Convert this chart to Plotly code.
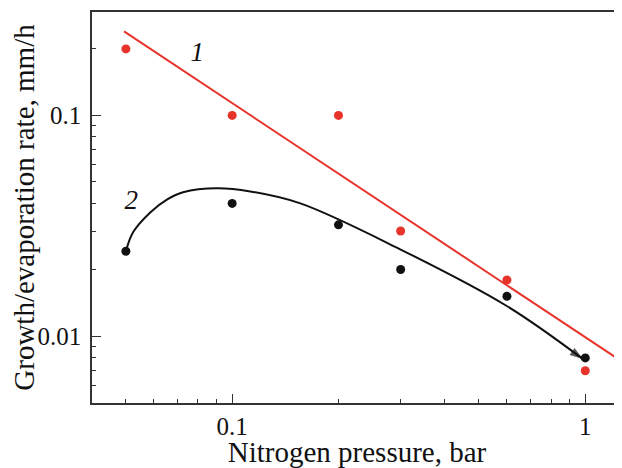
import plotly.graph_objects as go

# Series 1 (red): measured points
p1_x = [0.05, 0.1, 0.2, 0.3, 0.6, 1.0]
p1_y = [0.2, 0.1, 0.1, 0.03, 0.018, 0.007]
# Series 2 (black): measured points
p2_x = [0.05, 0.1, 0.2, 0.3, 0.6, 1.0]
p2_y = [0.0243, 0.04, 0.032, 0.0201, 0.0152, 0.008]

# Fit line for series 1 (endpoints)
fit1_x = [0.0494, 1.27]
fit1_y = [0.24, 0.0077]

# Guide curve for series 2
curve2_x = [0.05, 0.0524, 0.0586, 0.0655, 0.0726, 0.0907, 0.1125, 0.156, 0.299, 0.601, 0.985]
curve2_y = [0.0243, 0.0296, 0.0364, 0.0417, 0.0449, 0.0468, 0.0453, 0.0400, 0.0248, 0.0137, 0.0079]

# Curve labels
label_text = ["1", "2"]
label_x = [0.0796, 0.0518]
label_y = [0.189, 0.0404]

# Tick labels
x_ticks = [0.1, 1]
x_ticktext = ["0.1", "1"]
y_ticks = [0.01, 0.1]
y_ticktext = ["0.01", "0.1"]
x_minor = [0.05, 0.06, 0.07, 0.08, 0.09, 0.2, 0.3, 0.4, 0.5, 0.6, 0.7, 0.8, 0.9]
y_minor = [0.006, 0.007, 0.008, 0.009, 0.02, 0.03, 0.04, 0.05, 0.06, 0.07, 0.08, 0.09, 0.2]

RED = "#e8332a"
BLACK = "#111111"
AXC = "#333333"
FONT = "Liberation Serif"

fig = go.Figure()

fig.add_trace(go.Scatter(x=fit1_x, y=fit1_y, mode="lines",
                         line=dict(color=RED, width=2), showlegend=False))
n = len(curve2_x)
fig.add_trace(go.Scatter(x=curve2_x, y=curve2_y, mode="lines+markers",
                         line=dict(color=BLACK, width=2, shape="spline", smoothing=1.0),
                         marker=dict(symbol="arrow", angleref="previous",
                                     size=[0] * (n - 1) + [14], color=BLACK,
                                     line=dict(width=0)),
                         showlegend=False))
fig.add_trace(go.Scatter(x=p1_x, y=p1_y, mode="markers",
                         marker=dict(color=RED, size=9), showlegend=False))
fig.add_trace(go.Scatter(x=p2_x, y=p2_y, mode="markers",
                         marker=dict(color=BLACK, size=9), showlegend=False))
fig.add_trace(go.Scatter(x=label_x, y=label_y, mode="text", text=label_text,
                         textfont=dict(family=FONT, size=27, color=BLACK,
                                       style="italic"),
                         showlegend=False))

axis_common = dict(
    showgrid=False, zeroline=False, showline=True, linecolor=AXC, linewidth=1.5,
    ticks="inside", ticklen=9, tickwidth=1.3, tickcolor=AXC,
    tickfont=dict(family=FONT, size=25, color="#111111"),
    automargin=False,
)

fig.update_xaxes(type="log", range=[-1.397, 0.104], tickvals=x_ticks, ticktext=x_ticktext,
                 mirror=True,
                 minor=dict(tickvals=x_minor, ticks="inside", ticklen=4.5,
                            tickwidth=1.3, tickcolor=AXC, showgrid=False),
                 title=dict(text="Nitrogen pressure, bar",
                            font=dict(family=FONT, size=29, color="#111111"), standoff=8),
                 **axis_common)
fig.update_yaxes(type="log", range=[-2.301, -0.532], tickvals=y_ticks, ticktext=y_ticktext,
                 ticklabelstandoff=4,
                 minor=dict(tickvals=y_minor, ticks="inside", ticklen=4.5,
                            tickwidth=1.3, tickcolor=AXC, showgrid=False),
                 title=dict(text="Growth/evaporation rate, mm/h",
                            font=dict(family=FONT, size=29, color="#111111"), standoff=0),
                 **axis_common)

# The page body has an 8px default margin, so the figure is sized to the visible area
fig.update_layout(width=614, height=460, margin=dict(l=84, r=0, t=4, b=65),
                  plot_bgcolor="white", paper_bgcolor="white")

fig.write_html("out.html")
